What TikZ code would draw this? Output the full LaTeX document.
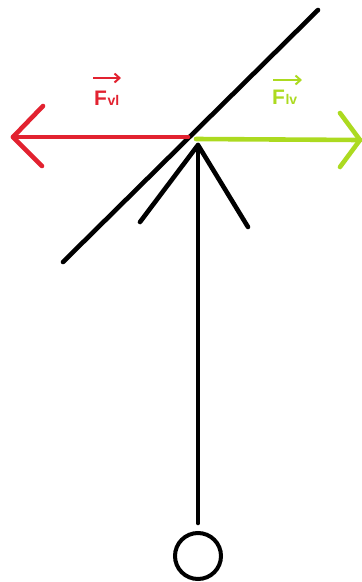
\documentclass[tikz,border=0pt]{standalone}
\usepackage{fontspec}
\setmainfont{Liberation Sans}
\usetikzlibrary{arrows.meta}
\definecolor{fred}{RGB}{226,34,48}
\definecolor{fgreen}{RGB}{172,218,32}
\tikzset{
  stroke/.style={line width=4.6pt, line cap=round},
  vecarrow/.style={line width=2pt, -{Straight Barb[length=5pt,width=9pt]}},
  lbl/.style={inner sep=0pt, anchor=base west, font=\bfseries},
}
\begin{document}
\begin{tikzpicture}[x=1pt,y=-1pt]
\useasboundingbox (0,0) rectangle (362,582);
% diagonal surface
\coordinate (d1) at (63,262);
\coordinate (d2) at (318,10);
\draw[stroke] (d1) -- (d2);
% red vector
\coordinate (rs) at (188,137);
\coordinate (rt) at (13,137);
\coordinate (ru) at (43,106);
\coordinate (rd) at (42,166);
\draw[stroke, fred] (rs) -- (rt);
\draw[stroke, fred, line join=round] (ru) -- (rt) -- (rd);
% green vector
\coordinate (gs) at (196,139);
\coordinate (gt) at (360,140);
\coordinate (gu) at (340,113);
\coordinate (gd) at (340,167);
\draw[stroke, fgreen] (gs) -- (gt);
\draw[stroke, fgreen, line join=round] (gu) -- (gt) -- (gd);
% vertical ray
\coordinate (vt) at (198,145);
\coordinate (vb) at (198,523);
\coordinate (vl) at (140,222);
\coordinate (vr) at (248,227);
\draw[stroke] (vb) -- (vt);
\draw[stroke, line join=round] (vl) -- (vt) -- (vr);
% source
\node[circle, draw, line width=4pt, minimum size=46pt, inner sep=0pt] (src) at (198,556) {};
% labels
\node[lbl, text=fred] (lfvl) at (94,105) {\fontsize{21}{21}\selectfont F\kern0.5pt\fontsize{14}{14}\selectfont vl};
\coordinate (ra1) at (93,78);
\coordinate (ra2) at (121,78);
\draw[vecarrow, fred] (ra1) -- (ra2);
\node[lbl, text=fgreen] (lflv) at (272,104) {\fontsize{21}{21}\selectfont F\kern0.5pt\fontsize{14}{14}\selectfont lv};
\coordinate (ga1) at (273,80);
\coordinate (ga2) at (302,80);
\draw[vecarrow, fgreen] (ga1) -- (ga2);
\end{tikzpicture}
\end{document}
